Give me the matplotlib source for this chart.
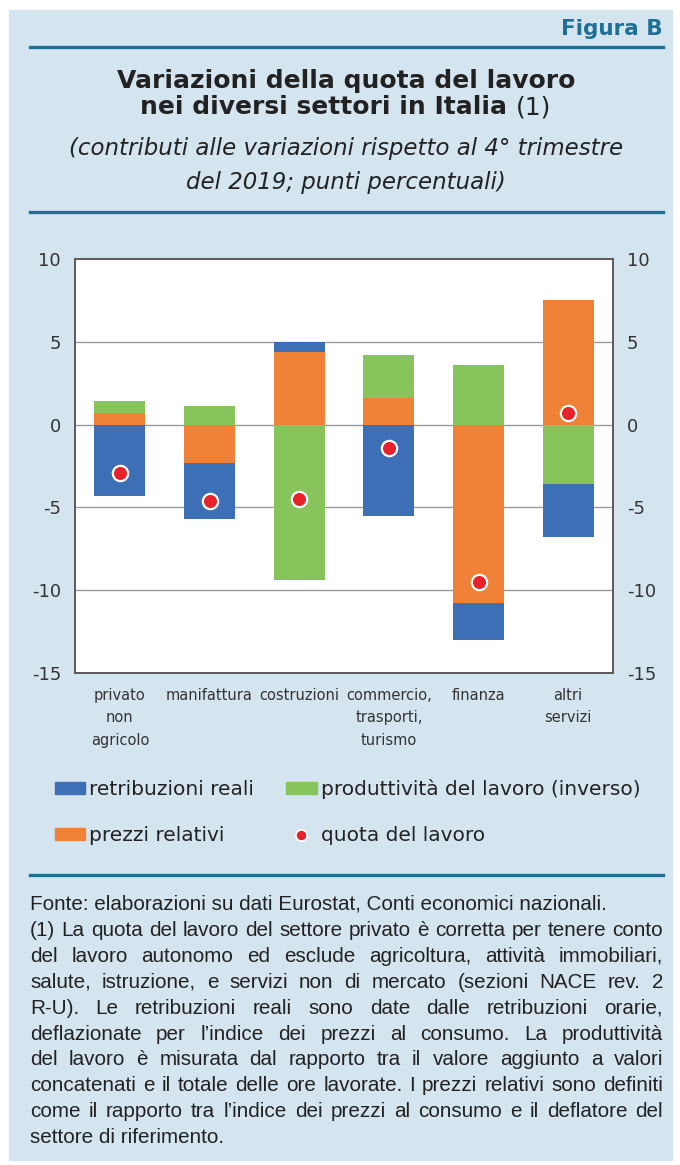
import matplotlib
matplotlib.use("Agg")
import matplotlib.pyplot as plt
import numpy as np
from matplotlib.patches import Rectangle, Patch
from matplotlib.lines import Line2D

# data (contributions, percentage points)
categories = ["privato\nnon\nagricolo", "manifattura", "costruzioni",
              "commercio,\ntrasporti,\nturismo", "finanza", "altri\nservizi"]
retribuzioni = [-4.3, -3.4, 0.6, -5.5, -2.2, -3.2]
produttivita = [0.7, 1.1, -9.4, 2.6, 3.6, -3.6]
prezzi = [0.7, -2.3, 4.4, 1.6, -10.8, 7.5]
quota = [-2.9, -4.6, -4.5, -1.4, -9.5, 0.7]
yticks = [10, 5, 0, -5, -10, -15]

BLUE = "#3d6fb6"
ORANGE = "#ef8236"
GREEN = "#88c45c"
RED = "#e8222a"
PANEL = "#d5e5ef"
RULE = "#1f6f96"
DARK = "#222222"
GRAY_TXT = "#333333"

W, H = 680, 1165
plt.rcParams["font.family"] = ["DejaVu Sans"]
plt.rcParams["axes.unicode_minus"] = False

fig = plt.figure(figsize=(W / 100, H / 100), dpi=100)
fig.patch.set_facecolor("white")
renderer = fig.canvas.get_renderer()


def fx(x):
    return x / W


def fy(y):
    return 1 - y / H


# light blue panel and rules
fig.add_artist(Rectangle((fx(9), fy(1160)), fx(672) - fx(9), fy(10) - fy(1160),
                         transform=fig.transFigure, color=PANEL, zorder=0))
for yy in (47, 212, 875):
    fig.add_artist(Line2D([fx(30), fx(663)], [fy(yy), fy(yy)], color=RULE, lw=2.4,
                          transform=fig.transFigure))

fig.text(fx(663), fy(29), "Figura B", ha="right", va="center", fontsize=15.5,
         fontweight="bold", color=RULE)
fig.text(fx(346), fy(81), "Variazioni della quota del lavoro", ha="center", va="center",
         fontsize=18, fontweight="bold", color=DARK)
# second title line: bold text + regular "(1)", centred together
tb = fig.text(0, fy(107), "nei diversi settori in Italia ", ha="left", va="center",
              fontsize=18, fontweight="bold", color=DARK)
tr = fig.text(0, fy(107), "(1)", ha="left", va="center", fontsize=18, color=DARK)
wb = tb.get_window_extent(renderer).width
wr = tr.get_window_extent(renderer).width
start = 346 - (wb + wr) / 2
tb.set_x(fx(start))
tr.set_x(fx(start + wb))

fig.text(fx(346), fy(148), "(contributi alle variazioni rispetto al 4° trimestre",
         ha="center", va="center", fontsize=16.5, style="italic", color=DARK)
fig.text(fx(346), fy(182), "del 2019; punti percentuali)",
         ha="center", va="center", fontsize=16.5, style="italic", color=DARK)

# axes
ax = fig.add_axes([fx(75), fy(673), fx(613) - fx(75), fy(259) - fy(673)])
ax.set_facecolor("white")
x = np.arange(len(categories))
width = 0.57
pos = np.zeros(len(x))
neg = np.zeros(len(x))
for vals, col in ((prezzi, ORANGE), (produttivita, GREEN), (retribuzioni, BLUE)):
    v = np.array(vals)
    bottom = np.where(v >= 0, pos, neg)
    ax.bar(x, v, width, bottom=bottom, color=col, zorder=2)
    pos = pos + np.where(v >= 0, v, 0)
    neg = neg + np.where(v < 0, v, 0)
ax.plot(x, quota, "o", color=RED, markersize=11, markeredgecolor="white",
        markeredgewidth=1.6, zorder=4)

ax.set_xlim(-0.5, len(x) - 0.5)
ax.set_ylim(-15, 10)
ax.set_yticks(yticks)
for yv in yticks[1:-1]:
    ax.axhline(yv, color="#9a9a9a", lw=1, zorder=1)
ax.set_xticks(x)
ax.set_xticklabels(categories, fontsize=10.5, color=GRAY_TXT, linespacing=1.6)
ax.tick_params(axis="x", length=0, pad=11)
ax.tick_params(axis="y", length=0, pad=10, labelsize=13, labelcolor=GRAY_TXT)
for s in ax.spines.values():
    s.set_color("#5a5a5a")
    s.set_linewidth(1.4)
ax2 = ax.twinx()
ax2.set_ylim(ax.get_ylim())
ax2.set_yticks(yticks)
ax2.tick_params(axis="y", length=0, pad=10, labelsize=13, labelcolor=GRAY_TXT)
for s in ax2.spines.values():
    s.set_visible(False)

# legend
handles = [Patch(color=BLUE, label="retribuzioni reali"),
           Patch(color=ORANGE, label="prezzi relativi"),
           Patch(color=GREEN, label="produttività del lavoro (inverso)"),
           Line2D([], [], ls="none", marker="o", color=RED, markersize=8,
                  markeredgecolor="white", markeredgewidth=1.2, label="quota del lavoro")]
fig.legend(handles=handles, ncol=2, loc="upper left", bbox_to_anchor=(fx(55), fy(779)),
           frameon=False, fontsize=14.5, handlelength=1.5, handleheight=0.5,
           handletextpad=0.2, columnspacing=1.6, labelspacing=1.35, borderpad=0,
           borderaxespad=0, labelcolor=DARK)

# justified footnote
notes = [
    "Fonte: elaborazioni su dati Eurostat, Conti economici nazionali.",
    "(1) La quota del lavoro del settore privato è corretta per tenere conto",
    "del lavoro autonomo ed esclude agricoltura, attività immobiliari,",
    "salute, istruzione, e servizi non di mercato (sezioni NACE rev. 2",
    "R-U). Le retribuzioni reali sono date dalle retribuzioni orarie,",
    "deflazionate per l’indice dei prezzi al consumo. La produttività",
    "del lavoro è misurata dal rapporto tra il valore aggiunto a valori",
    "concatenati e il totale delle ore lavorate. I prezzi relativi sono definiti",
    "come il rapporto tra l’indice dei prezzi al consumo e il deflatore del",
    "settore di riferimento.",
]
justify = [False, True, True, True, True, True, True, True, True, False]
X0, X1, Y0, DY = 30, 663, 910, 25.9
NFONT = "Liberation Sans"

# pick the size so the longest line just fits the column
probe = fig.text(0, 0, max(notes, key=len), fontsize=10, family=NFONT)
widest = max(probe.set_text(n) or probe.get_window_extent(renderer).width for n in notes)
probe.remove()
FS = 10 * (X1 - X0 - 4) / widest

for i, (line, jf) in enumerate(zip(notes, justify)):
    y = fy(Y0 + i * DY)
    if not jf:
        fig.text(fx(X0), y, line, ha="left", va="baseline", fontsize=FS,
                 family=NFONT, color=DARK)
        continue
    words = line.split()
    arts = [fig.text(0, y, w, ha="left", va="baseline", fontsize=FS, family=NFONT,
                     color=DARK) for w in words]
    widths = [a.get_window_extent(renderer).width for a in arts]
    gap = (X1 - X0 - sum(widths)) / (len(words) - 1)
    xx = X0
    for a, w in zip(arts, widths):
        a.set_x(fx(xx))
        xx += w + gap

fig.savefig("out.png", dpi=100, facecolor="white")
